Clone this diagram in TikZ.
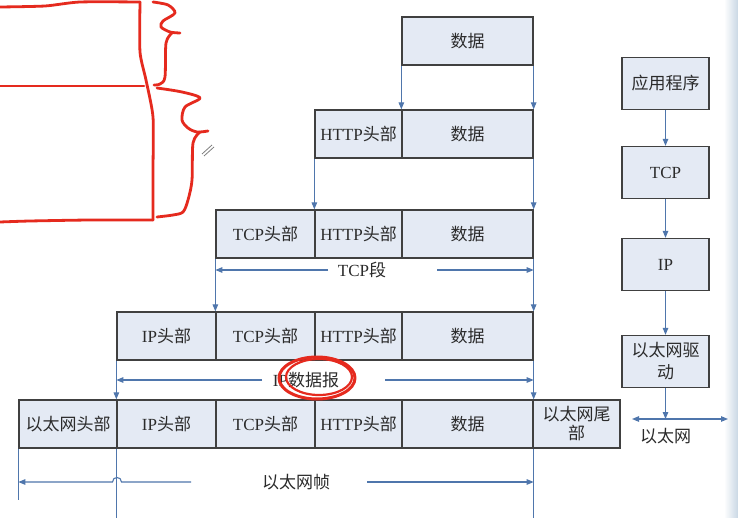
\documentclass[tikz,border=0pt]{standalone}
\usepackage{fontspec}
\setmainfont{Liberation Serif}
\newfontfamily\cjk{Noto Sans CJK SC}
\usetikzlibrary{arrows.meta}
\definecolor{boxfill}{HTML}{E4EAF4}
\definecolor{boxline}{HTML}{404040}
\definecolor{conn}{HTML}{4F76AC}
\definecolor{annot}{HTML}{E52A1E}
\definecolor{txt}{HTML}{2B2B2B}
\definecolor{strip}{HTML}{C9D7E4}
\begin{document}
\begin{tikzpicture}[x=1pt,y=-1pt,
  pkt/.style={draw=boxline, fill=boxfill, line width=1.3pt, minimum height=48pt, inner sep=0pt, text=txt, font=\fontsize{17}{20}\selectfont},
  lay/.style={pkt, minimum width=87pt, minimum height=52pt, align=center},
  link/.style={draw=conn, line width=1.1pt, -{Triangle[length=7pt,width=5.5pt]}},
  plain/.style={draw=conn, line width=1.1pt},
  lbl/.style={text=txt, font=\fontsize{17}{20}\selectfont, inner sep=1pt},
  pen/.style={draw=annot, line width=2.8pt, line cap=round, line join=round}]
\useasboundingbox (0,0) rectangle (738,518);
\fill[white] (0,0) rectangle (738,518);
\shade[left color=white, right color=strip] (724,0) rectangle (738,518);

% row 1
\node[pkt, minimum width=131pt] (d1) at (467.5,41) {\cjk 数据};
% row 2
\node[pkt, minimum width=87pt] (h2) at (358.5,134) {HTTP{\cjk 头部}};
\node[pkt, minimum width=131pt] (d2) at (467.5,134) {\cjk 数据};
% row 3
\node[pkt, minimum width=99pt] (t3) at (265.5,234) {TCP{\cjk 头部}};
\node[pkt, minimum width=87pt] (h3) at (358.5,234) {HTTP{\cjk 头部}};
\node[pkt, minimum width=131pt] (d3) at (467.5,234) {\cjk 数据};
% row 4
\node[pkt, minimum width=99pt] (i4) at (166.5,336) {IP{\cjk 头部}};
\node[pkt, minimum width=99pt] (t4) at (265.5,336) {TCP{\cjk 头部}};
\node[pkt, minimum width=87pt] (h4) at (358.5,336) {HTTP{\cjk 头部}};
\node[pkt, minimum width=131pt] (d4) at (467.5,336) {\cjk 数据};
% row 5
\node[pkt, minimum width=98pt] (e5) at (68,424) {\cjk 以太网头部};
\node[pkt, minimum width=99pt] (i5) at (166.5,424) {IP{\cjk 头部}};
\node[pkt, minimum width=99pt] (t5) at (265.5,424) {TCP{\cjk 头部}};
\node[pkt, minimum width=87pt] (h5) at (358.5,424) {HTTP{\cjk 头部}};
\node[pkt, minimum width=131pt] (d5) at (467.5,424) {\cjk 数据};
\node[pkt, minimum width=87pt, align=center, font=\fontsize{17}{21}\selectfont] (tail5) at (576.5,424) {\cjk 以太网尾\\[-2pt]\cjk 部};

% vertical connectors
\draw[link] (d1.south west) -- (d2.north west);
\draw[link] (d1.south east) -- (d2.north east);
\draw[link] (h2.south west) -- (h3.north west);
\draw[link] (d2.south east) -- (d3.north east);
\draw[link] (t3.south west) -- (t4.north west);
\draw[link] (d3.south east) -- (d4.north east);
\draw[link] (i4.south west) -- (i5.north west);
\draw[link] (d4.south east) -- (d5.north east);
\coordinate (eEnd) at (19,500);
\coordinate (bEnd) at (0,518);
\draw[plain] (e5.south west) -- (e5.south west |- eEnd);
\draw[plain] (i5.south west) -- (i5.south west |- bEnd);
\draw[plain] (d5.south east) -- (d5.south east |- bEnd);

% TCP segment
\node[lbl] (tcpseg) at (362,270) {TCP{\cjk 段}};
\coordinate (ts1) at (328,270);
\coordinate (ts2) at (437,270);
\draw[link] (ts1) -- (t3.south west |- ts1);
\draw[link] (ts2) -- (d3.south east |- ts2);

% IP datagram
\node[lbl] (ipdg) at (306,380) {IP{\cjk 数据报}};
\coordinate (ip1) at (262,380);
\coordinate (ip2) at (385,380);
\draw[link] (ip1) -- (i4.south west |- ip1);
\draw[link] (ip2) -- (d4.south east |- ip2);

% Ethernet frame
\node[lbl] (ethfr) at (296,482) {\cjk 以太网帧};
\coordinate (ef1) at (191,482);
\coordinate (ef2) at (367,482);
\coordinate (hopR) at (121.5,482);
\coordinate (hopL) at (112.5,482);
\draw[link] (ef1) -- (hopR) .. controls (121.5,476) and (112.5,476) .. (hopL) -- (e5.south west |- ef1);
\draw[link] (ef2) -- (d5.south east |- ef2);

% right column: layers
\node[lay] (app) at (665.5,83.5) {\cjk 应用程序};
\node[lay] (tcpl) at (665.5,172.5) {TCP};
\node[lay] (ipl) at (665.5,264.5) {IP};
\node[lay, font=\fontsize{17}{22}\selectfont] (drv) at (665.5,361.5) {\cjk 以太网驱\\\cjk 动};
\draw[link] (app.south) -- (tcpl.north);
\draw[link] (tcpl.south) -- (ipl.north);
\draw[link] (ipl.south) -- (drv.north);
\coordinate (netC) at (665.5,419);
\coordinate (netL) at (632,419);
\coordinate (netR) at (728,419);
\draw[link] (drv.south) -- (netC);
\draw[draw=conn, line width=1.1pt, {Triangle[length=7pt,width=5.5pt]}-{Triangle[length=7pt,width=5.5pt]}] (netL) -- (netR);
\node[lbl] (net) at (665.5,436) {\cjk 以太网};

% red hand-drawn annotations
\draw[pen] plot[smooth, tension=0.4] coordinates {(0,7) (45,6) (80,2) (140,2)};
\draw[pen] plot[smooth, tension=0.4] coordinates {(140,2) (140,52) (146,80) (153,117) (153,170) (153,220)};
\draw[pen] (0,86) -- (144,86);
\draw[pen] plot[smooth, tension=0.4] coordinates {(153,220) (90,220) (30,221) (0,222)};
\draw[pen] plot[smooth, tension=0.5] coordinates {(153,2) (168,5) (175,13) (163,21) (161,27) (170,32) (180,33)};
\draw[pen] plot[smooth, tension=0.5] coordinates {(172,33) (166,43) (165,77) (160,84) (154,85)};
\draw[pen] plot[smooth, tension=0.5] coordinates {(157,88) (182,92) (200,98) (185,107) (182,120) (188,128) (197,132) (208,131)};
\draw[pen] plot[smooth, tension=0.5] coordinates {(200,132) (193,143) (192,180) (188,200) (183,212) (173,215) (157,217)};
\draw[pen, line width=3pt] (317,378) ellipse [x radius=38pt, y radius=21pt];
\draw[pen, line width=2.2pt] (319,377) ellipse [x radius=33pt, y radius=18pt];
% pen cursor
\draw[gray, line width=0.8pt] (202,154) -- (212,145);
\draw[gray, line width=0.8pt] (204,156) -- (214,147);
\end{tikzpicture}
\end{document}
